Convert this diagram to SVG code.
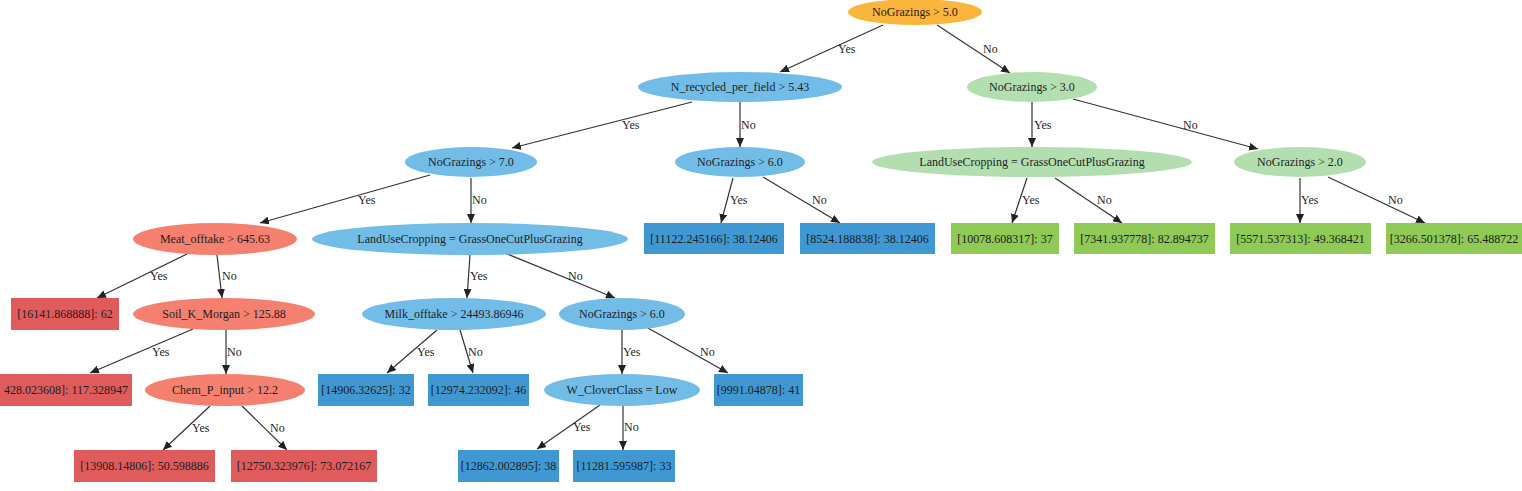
<svg xmlns="http://www.w3.org/2000/svg" width="1522" height="491" viewBox="0 0 1522 491">
<style>
text{font-family:"Liberation Serif","Times New Roman",serif;font-size:12px;fill:#1e1e1e;text-anchor:middle}
.lbl{text-anchor:start;font-size:12px}
.e{stroke:#333;stroke-width:1.2;fill:none}
.or{fill:#fbb43c}
.be{fill:#72bde8}
.br{fill:#3f98d2}
.re{fill:#f6806f}
.rr{fill:#e05b5b}
.ge{fill:#b3dfb0}
.gr{fill:#8fc956}
</style>
<defs>
<marker id="ah" markerUnits="userSpaceOnUse" markerWidth="10" markerHeight="8" refX="9" refY="4" orient="auto">
<path d="M0,0 L9,4 L0,8 z" fill="#222"/>
</marker>
</defs>
<rect width="1522" height="491" fill="#fff"/>
<g id="connectors">
<line class="e" x1="883" y1="25" x2="780" y2="72" marker-end="url(#ah)"/>
<text class="lbl" x="838" y="53">Yes</text>
<line class="e" x1="937" y1="25" x2="1010" y2="73" marker-end="url(#ah)"/>
<text class="lbl" x="983" y="53">No</text>
<line class="e" x1="692" y1="102" x2="512" y2="148" marker-end="url(#ah)"/>
<text class="lbl" x="622" y="129">Yes</text>
<line class="e" x1="740" y1="102" x2="740" y2="147" marker-end="url(#ah)"/>
<text class="lbl" x="741" y="129">No</text>
<line class="e" x1="1032" y1="102" x2="1032" y2="147" marker-end="url(#ah)"/>
<text class="lbl" x="1034" y="129">Yes</text>
<line class="e" x1="1073" y1="99" x2="1258" y2="149" marker-end="url(#ah)"/>
<text class="lbl" x="1183" y="129">No</text>
<line class="e" x1="430" y1="175" x2="260" y2="223" marker-end="url(#ah)"/>
<text class="lbl" x="358" y="204">Yes</text>
<line class="e" x1="471" y1="178" x2="471" y2="223" marker-end="url(#ah)"/>
<text class="lbl" x="472" y="204">No</text>
<line class="e" x1="733" y1="178" x2="721" y2="223" marker-end="url(#ah)"/>
<text class="lbl" x="730" y="204">Yes</text>
<line class="e" x1="763" y1="177" x2="840" y2="223" marker-end="url(#ah)"/>
<text class="lbl" x="812" y="204">No</text>
<line class="e" x1="1027" y1="178" x2="1012" y2="223" marker-end="url(#ah)"/>
<text class="lbl" x="1022" y="204">Yes</text>
<line class="e" x1="1055" y1="178" x2="1122" y2="223" marker-end="url(#ah)"/>
<text class="lbl" x="1097" y="204">No</text>
<line class="e" x1="1300" y1="178" x2="1300" y2="223" marker-end="url(#ah)"/>
<text class="lbl" x="1301" y="204">Yes</text>
<line class="e" x1="1328" y1="177" x2="1425" y2="223" marker-end="url(#ah)"/>
<text class="lbl" x="1388" y="204">No</text>
<line class="e" x1="187" y1="254" x2="97" y2="298" marker-end="url(#ah)"/>
<text class="lbl" x="150" y="280">Yes</text>
<line class="e" x1="217" y1="255" x2="222" y2="298" marker-end="url(#ah)"/>
<text class="lbl" x="222" y="280">No</text>
<line class="e" x1="470" y1="255" x2="467" y2="298" marker-end="url(#ah)"/>
<text class="lbl" x="470" y="280">Yes</text>
<line class="e" x1="505" y1="253" x2="615" y2="298" marker-end="url(#ah)"/>
<text class="lbl" x="568" y="280">No</text>
<line class="e" x1="193" y1="329" x2="90" y2="373" marker-end="url(#ah)"/>
<text class="lbl" x="152" y="356">Yes</text>
<line class="e" x1="226" y1="330" x2="226" y2="374" marker-end="url(#ah)"/>
<text class="lbl" x="227" y="356">No</text>
<line class="e" x1="437" y1="330" x2="387" y2="373" marker-end="url(#ah)"/>
<text class="lbl" x="417" y="356">Yes</text>
<line class="e" x1="460" y1="330" x2="473" y2="373" marker-end="url(#ah)"/>
<text class="lbl" x="468" y="356">No</text>
<line class="e" x1="622" y1="330" x2="622" y2="374" marker-end="url(#ah)"/>
<text class="lbl" x="623" y="356">Yes</text>
<line class="e" x1="648" y1="328" x2="728" y2="373" marker-end="url(#ah)"/>
<text class="lbl" x="700" y="356">No</text>
<line class="e" x1="210" y1="406" x2="163" y2="450" marker-end="url(#ah)"/>
<text class="lbl" x="192" y="432">Yes</text>
<line class="e" x1="242" y1="406" x2="287" y2="450" marker-end="url(#ah)"/>
<text class="lbl" x="270" y="432">No</text>
<line class="e" x1="600" y1="405" x2="537" y2="449" marker-end="url(#ah)"/>
<text class="lbl" x="573" y="431">Yes</text>
<line class="e" x1="623" y1="406" x2="623" y2="450" marker-end="url(#ah)"/>
<text class="lbl" x="624" y="431">No</text>
</g>
<g id="n0"><ellipse class="or" cx="915" cy="12" rx="67" ry="13"/><text x="915" y="16">NoGrazings &gt; 5.0</text></g>
<g id="n1"><ellipse class="be" cx="740" cy="87" rx="102" ry="15"/><text x="740" y="91">N_recycled_per_field &gt; 5.43</text></g>
<g id="n2"><ellipse class="ge" cx="1032" cy="87" rx="65" ry="15"/><text x="1032" y="91">NoGrazings &gt; 3.0</text></g>
<g id="n3"><ellipse class="be" cx="471" cy="162" rx="66" ry="15"/><text x="471" y="166">NoGrazings &gt; 7.0</text></g>
<g id="n4"><ellipse class="be" cx="740" cy="162" rx="65" ry="15"/><text x="740" y="166">NoGrazings &gt; 6.0</text></g>
<g id="n5"><ellipse class="ge" cx="1032" cy="162" rx="160" ry="15"/><text x="1032" y="166">LandUseCropping = GrassOneCutPlusGrazing</text></g>
<g id="n6"><ellipse class="ge" cx="1300" cy="162" rx="66" ry="15"/><text x="1300" y="166">NoGrazings &gt; 2.0</text></g>
<g id="n7"><ellipse class="re" cx="215" cy="239" rx="82" ry="16"/><text x="215" y="243">Meat_offtake &gt; 645.63</text></g>
<g id="n8"><ellipse class="be" cx="470" cy="239" rx="158" ry="16"/><text x="470" y="243">LandUseCropping = GrassOneCutPlusGrazing</text></g>
<g id="n9"><rect class="br" x="644" y="223" width="140" height="31"/><text x="714" y="243">[11122.245166]: 38.12406</text></g>
<g id="n10"><rect class="br" x="800" y="223" width="135" height="31"/><text x="867.5" y="243">[8524.188838]: 38.12406</text></g>
<g id="n11"><rect class="gr" x="951" y="223" width="108" height="31"/><text x="1005" y="243">[10078.608317]: 37</text></g>
<g id="n12"><rect class="gr" x="1074" y="223" width="141" height="31"/><text x="1144.5" y="243">[7341.937778]: 82.894737</text></g>
<g id="n13"><rect class="gr" x="1230" y="223" width="141" height="31"/><text x="1300.5" y="243">[5571.537313]: 49.368421</text></g>
<g id="n14"><rect class="gr" x="1386" y="223" width="136" height="31"/><text x="1454" y="243">[3266.501378]: 65.488722</text></g>
<g id="n15"><rect class="rr" x="11" y="298" width="108" height="32"/><text x="65" y="318">[16141.868888]: 62</text></g>
<g id="n16"><ellipse class="re" cx="224" cy="314" rx="91" ry="16"/><text x="224" y="318">Soil_K_Morgan &gt; 125.88</text></g>
<g id="n17"><ellipse class="be" cx="454" cy="314" rx="92" ry="16"/><text x="454" y="318">Milk_offtake &gt; 24493.86946</text></g>
<g id="n18"><ellipse class="be" cx="622" cy="314" rx="63" ry="16"/><text x="622" y="318">NoGrazings &gt; 6.0</text></g>
<g id="n19"><rect class="rr" x="-12" y="374" width="144" height="32"/><text x="128" y="394" style="text-anchor:end">428.023608]: 117.328947</text></g>
<g id="n20"><ellipse class="re" cx="225" cy="390" rx="80" ry="16"/><text x="225" y="394">Chem_P_input &gt; 12.2</text></g>
<g id="n21"><rect class="br" x="318" y="374" width="96" height="32"/><text x="366" y="394">[14906.32625]: 32</text></g>
<g id="n22"><rect class="br" x="428" y="374" width="101" height="32"/><text x="478.5" y="394">[12974.232092]: 46</text></g>
<g id="n23"><ellipse class="be" cx="622" cy="390" rx="78" ry="16"/><text x="622" y="394">W_CloverClass = Low</text></g>
<g id="n24"><rect class="br" x="714" y="374" width="89" height="32"/><text x="758.5" y="394">[9991.04878]: 41</text></g>
<g id="n25"><rect class="rr" x="74" y="450" width="141" height="32"/><text x="144.5" y="470">[13908.14806]: 50.598886</text></g>
<g id="n26"><rect class="rr" x="231" y="450" width="146" height="32"/><text x="304" y="470">[12750.323976]: 73.072167</text></g>
<g id="n27"><rect class="br" x="458" y="450" width="101" height="32"/><text x="508.5" y="470">[12862.002895]: 38</text></g>
<g id="n28"><rect class="br" x="573" y="450" width="102" height="32"/><text x="624" y="470">[11281.595987]: 33</text></g>
</svg>
